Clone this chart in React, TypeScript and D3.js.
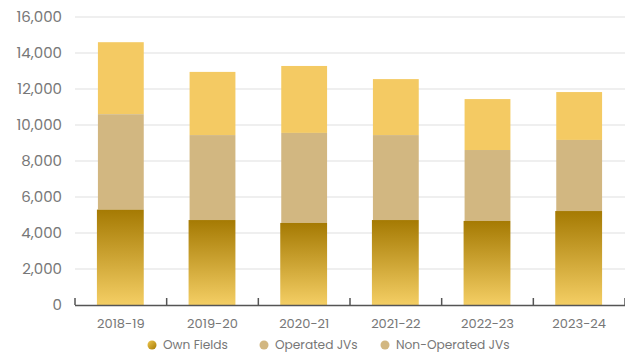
import React from "react";
import * as d3 from "d3";

const categories = ["2018-19", "2019-20", "2020-21", "2021-22", "2022-23", "2023-24"];
const ownFields = [5300, 4720, 4560, 4720, 4670, 5220];
const operatedJVs = [5300, 4720, 5000, 4720, 3940, 3950];
const nonOperatedJVs = [4000, 3510, 3720, 3110, 2830, 2660];
const yTicks = [0, 2000, 4000, 6000, 8000, 10000, 12000, 14000, 16000];
const legendItems = ["Own Fields", "Operated JVs", "Non-Operated JVs"];

const W = 625, H = 356;
const M = { left: 75, right: 0, top: 17, bottom: 51 };
const FONT = "Poppins, 'Open Sans', sans-serif";

export default function App() {
  const x = d3.scaleBand<string>().domain(categories).range([M.left, W - M.right]).paddingInner(0.5).paddingOuter(0.25);
  const y = d3.scaleLinear().domain([0, 16000]).range([H - M.bottom, M.top]);
  const bw = x.bandwidth();
  const fmt = d3.format(",");
  const stacks = categories.map((c, i) => {
    const a = ownFields[i], b = operatedJVs[i], n = nonOperatedJVs[i];
    return { c, own: [0, a], op: [a, a + b], non: [a + b, a + b + n] };
  });
  const step = x.step();
  const boundaries = d3.range(categories.length + 1).map((i) => M.left + i * step);
  const legendX = [152, 264, 385];
  return (
    <svg width={W} height={H} style={{ position: "absolute", left: 0, top: 0, display: "block" }} fontFamily={FONT}>
      <defs>
        <linearGradient id="ownGrad" x1="0" y1="0" x2="0" y2="1">
          <stop offset="0%" stopColor="#A57A03" />
          <stop offset="100%" stopColor="#F4CE64" />
        </linearGradient>
        <linearGradient id="ownDot" x1="0" y1="0" x2="1" y2="1">
          <stop offset="0%" stopColor="#F0C850" />
          <stop offset="100%" stopColor="#A57A03" />
        </linearGradient>
      </defs>
      {yTicks.map((t) => (
        <g key={t}>
          {t > 0 && <line x1={M.left} x2={W} y1={y(t)} y2={y(t)} stroke="#e0e0e0" strokeWidth={1.2} />}
          <text x={62} y={y(t)} dy="0.35em" textAnchor="end" fontSize={15} fill="#777">{fmt(t)}</text>
        </g>
      ))}
      {stacks.map((s) => {
        const x0 = x(s.c)!;
        return (
          <g key={s.c}>
            <rect x={x0} y={y(s.non[1])} width={bw} height={y(s.non[0]) - y(s.non[1])} fill="#F4CA63" />
            <rect x={x0} y={y(s.op[1])} width={bw} height={y(s.op[0]) - y(s.op[1])} fill="#D2B781" />
            <rect x={x0 - 1} y={y(s.own[1])} width={bw + 1} height={y(s.own[0]) - y(s.own[1])} fill="url(#ownGrad)" />
            <text x={x0 + bw / 2} y={328} textAnchor="middle" fontSize={13} fill="#777">{s.c}</text>
          </g>
        );
      })}
      <line x1={M.left} x2={W} y1={y(0) + 0.5} y2={y(0) + 0.5} stroke="#555" strokeWidth={1.5} />
      {boundaries.map((bx, i) => (
        <line key={i} x1={bx} x2={bx} y1={y(0)} y2={y(0) - 7} stroke="#555" strokeWidth={1.5} />
      ))}
      {legendItems.map((l, i) => (
        <g key={l}>
          <circle cx={legendX[i]} cy={345} r={4.5} fill={i === 0 ? "url(#ownDot)" : "#D2B781"} />
          <text x={legendX[i] + 11} y={345} dy="0.35em" fontSize={12.2} fill="#777">{l}</text>
        </g>
      ))}
    </svg>
  );
}
